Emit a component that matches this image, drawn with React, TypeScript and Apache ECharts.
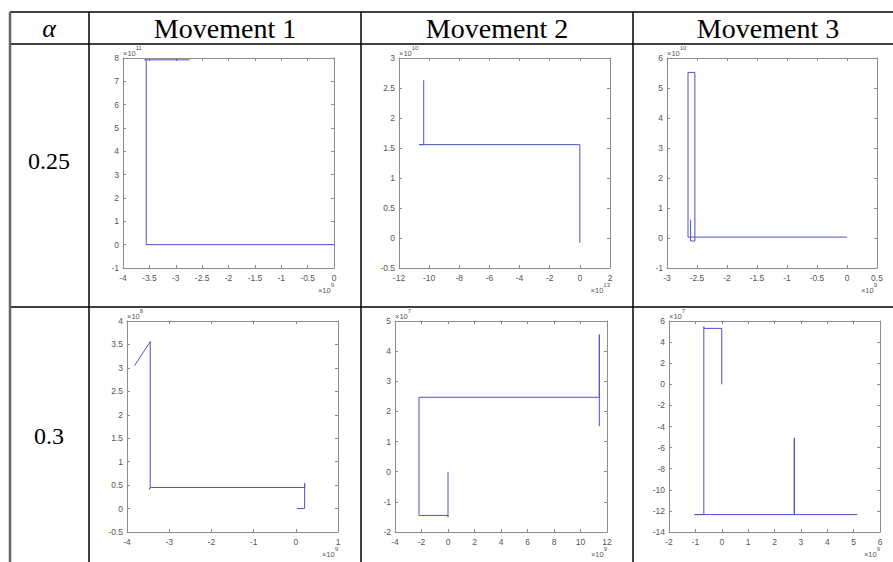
import React, { useEffect, useRef } from "react";
import * as echarts from "echarts";

// ---- table labels ----
const headerLabels = ["Movement 1", "Movement 2", "Movement 3"];
const alphaLabels = ["0.25", "0.3"];

// ---- axis settings per panel: [xmin, xmax, xstep, ymin, ymax, ystep] ----
const panelRanges = [
  [-4, 0, 0.5, -1, 8, 1],
  [-12, 2, 2, -0.5, 3, 0.5],
  [-3, 0.5, 0.5, -1, 6, 1],
  [-4, 1, 1, -0.5, 4, 0.5],
  [-4, 12, 2, -2, 5, 1],
  [-2, 6, 1, -14, 6, 2],
];
const yExponents = ["11", "10", "10", "8", "7", "7"];
const xExponents = ["9", "13", "9", "9", "9", "9"];

// ---- trajectories (axis units, scaled by the exponents above) ----
const a025m1X = [0, -3.56, -3.56, -3.59, -2.74];
const a025m1Y = [0, 0, 7.92, 7.92, 7.92];

const a025m2X = [0, 0, -10.67, -10.36, -10.36];
const a025m2Y = [-0.08, 1.556, 1.556, 1.556, 2.63];

const a025m3X = [0, -2.65, -2.65, -2.535, -2.535, -2.607, -2.607];
const a025m3Y = [0.03, 0.03, 5.52, 5.52, -0.1, -0.1, 0.61];

const a03m1X = [0.03, 0.21, 0.21, 0.21, -3.45, -3.47, -3.45, -3.45, -3.82];
const a03m1Y = [0, 0, 0.54, 0.45, 0.45, 0.41, 0.45, 3.56, 3.05];

const a03m2X = [0, 0, 0, -2.19, -2.19, 11.42, 11.42, 11.42];
const a03m2Y = [0, -1.5, -1.45, -1.45, 2.47, 2.47, 4.55, 1.51];

const a03m3X = [0, 0, -0.68, -0.68, -0.68, -1.03, 2.75, 2.75, 2.75, 5.14];
const a03m3Y = [0, 5.3, 5.3, 5.45, -12.35, -12.35, -12.35, -5.08, -12.35, -12.35];

const panelXs = [a025m1X, a025m2X, a025m3X, a03m1X, a03m2X, a03m3X];
const panelYs = [a025m1Y, a025m2Y, a025m3Y, a03m1Y, a03m2Y, a03m3Y];

// ---- layout ----
const grids = [
  { left: 123, top: 58, width: 211, height: 210 },
  { left: 399, top: 58, width: 211, height: 210 },
  { left: 667, top: 58, width: 210, height: 210 },
  { left: 127, top: 321, width: 211, height: 211 },
  { left: 395, top: 321, width: 212, height: 211 },
  { left: 669, top: 321, width: 211, height: 211 },
];

const LINE = "#5050c8";
const BOX = "#8c8c8c";
const LABEL = "#555555";
const SANS = "'Liberation Sans', Arial, sans-serif";
const SERIF = "'Liberation Serif', 'Times New Roman', serif";

function axis(gridIndex: number, min: number, max: number, interval: number, pos: string, labels: boolean) {
  return {
    type: "value",
    gridIndex,
    min,
    max,
    interval,
    position: pos,
    scale: true,
    axisLine: { show: true, onZero: false, lineStyle: { color: BOX, width: 1 } },
    axisTick: { show: true, inside: true, length: 3, lineStyle: { color: BOX, width: 1 } },
    axisLabel: {
      show: labels,
      color: LABEL,
      fontSize: 8.5,
      fontFamily: SANS,
      margin: pos === "bottom" ? 5 : 4,
    },
    splitLine: { show: false },
  };
}

export default function App() {
  const ref = useRef<HTMLDivElement>(null);
  useEffect(() => {
    if (!ref.current) return;
    const chart = echarts.init(ref.current, null, { renderer: "svg" });

    const xAxes: any[] = [];
    const yAxes: any[] = [];
    const series: any[] = [];
    const graphics: any[] = [];

    grids.forEach((g, i) => {
      const r = panelRanges[i];
      xAxes.push(axis(i, r[0], r[1], r[2], "bottom", true));
      xAxes.push(axis(i, r[0], r[1], r[2], "top", false));
      yAxes.push(axis(i, r[3], r[4], r[5], "left", true));
      yAxes.push(axis(i, r[3], r[4], r[5], "right", false));
      series.push({
        type: "line",
        xAxisIndex: 2 * i,
        yAxisIndex: 2 * i,
        data: panelXs[i].map((x, k) => [x, panelYs[i][k]]),
        showSymbol: false,
        symbol: "none",
        lineStyle: { color: LINE, width: 1 },
        itemStyle: { color: LINE },
        silent: true,
      });
      const rich = {
        a: { fontSize: 7.5, fontFamily: SANS, fill: LABEL, color: LABEL, verticalAlign: "bottom", lineHeight: 12 },
        b: { fontSize: 6, fontFamily: SANS, fill: LABEL, color: LABEL, verticalAlign: "top", lineHeight: 12 },
      };
      graphics.push({
        type: "text",
        x: g.left,
        y: g.top - 1,
        silent: true,
        style: { text: `{a|×10}{b|${yExponents[i]}}`, rich, align: "left", verticalAlign: "bottom" },
      });
      graphics.push({
        type: "text",
        x: g.left + g.width,
        y: g.top + g.height + 14,
        silent: true,
        style: { text: `{a|×10}{b|${xExponents[i]}}`, rich, align: "right", verticalAlign: "top" },
      });
    });

    // table lines
    const hLines = [12, 44, 307];
    hLines.forEach((y) =>
      graphics.push({ type: "line", silent: true, shape: { x1: 10, y1: y, x2: 900, y2: y }, style: { stroke: "#000", lineWidth: 1.5 } })
    );
    graphics.push({ type: "line", silent: true, shape: { x1: 10, y1: 12, x2: 10, y2: 570 }, style: { stroke: "#666", lineWidth: 2.5 } });
    [89, 361, 633].forEach((x) =>
      graphics.push({ type: "line", silent: true, shape: { x1: x, y1: 12, x2: x, y2: 570 }, style: { stroke: "#000", lineWidth: 1.5 } })
    );

    // header
    graphics.push({
      type: "text", x: 49, y: 28, silent: true,
      style: { text: "α", font: `italic 26px ${SERIF}`, fill: "#000", align: "center", verticalAlign: "middle" },
    });
    const colCenters = [225, 497, 768];
    headerLabels.forEach((t, i) =>
      graphics.push({
        type: "text", x: colCenters[i], y: 28, silent: true,
        style: { text: t, font: `28px ${SERIF}`, fill: "#000", align: "center", verticalAlign: "middle" },
      })
    );
    const rowCenters = [161, 436];
    alphaLabels.forEach((t, i) =>
      graphics.push({
        type: "text", x: 49, y: rowCenters[i], silent: true,
        style: { text: t, font: `24px ${SERIF}`, fill: "#000", align: "center", verticalAlign: "middle" },
      })
    );

    chart.setOption({
      animation: false,
      backgroundColor: "#ffffff",
      grid: grids.map((g) => ({ ...g, containLabel: false })),
      xAxis: xAxes,
      yAxis: yAxes,
      series,
      graphic: graphics,
    });
    return () => chart.dispose();
  }, []);

  return (
    <div
      ref={ref}
      style={{ position: "absolute", left: 0, top: 0, width: 893, height: 562, background: "#fff" }}
    />
  );
}
